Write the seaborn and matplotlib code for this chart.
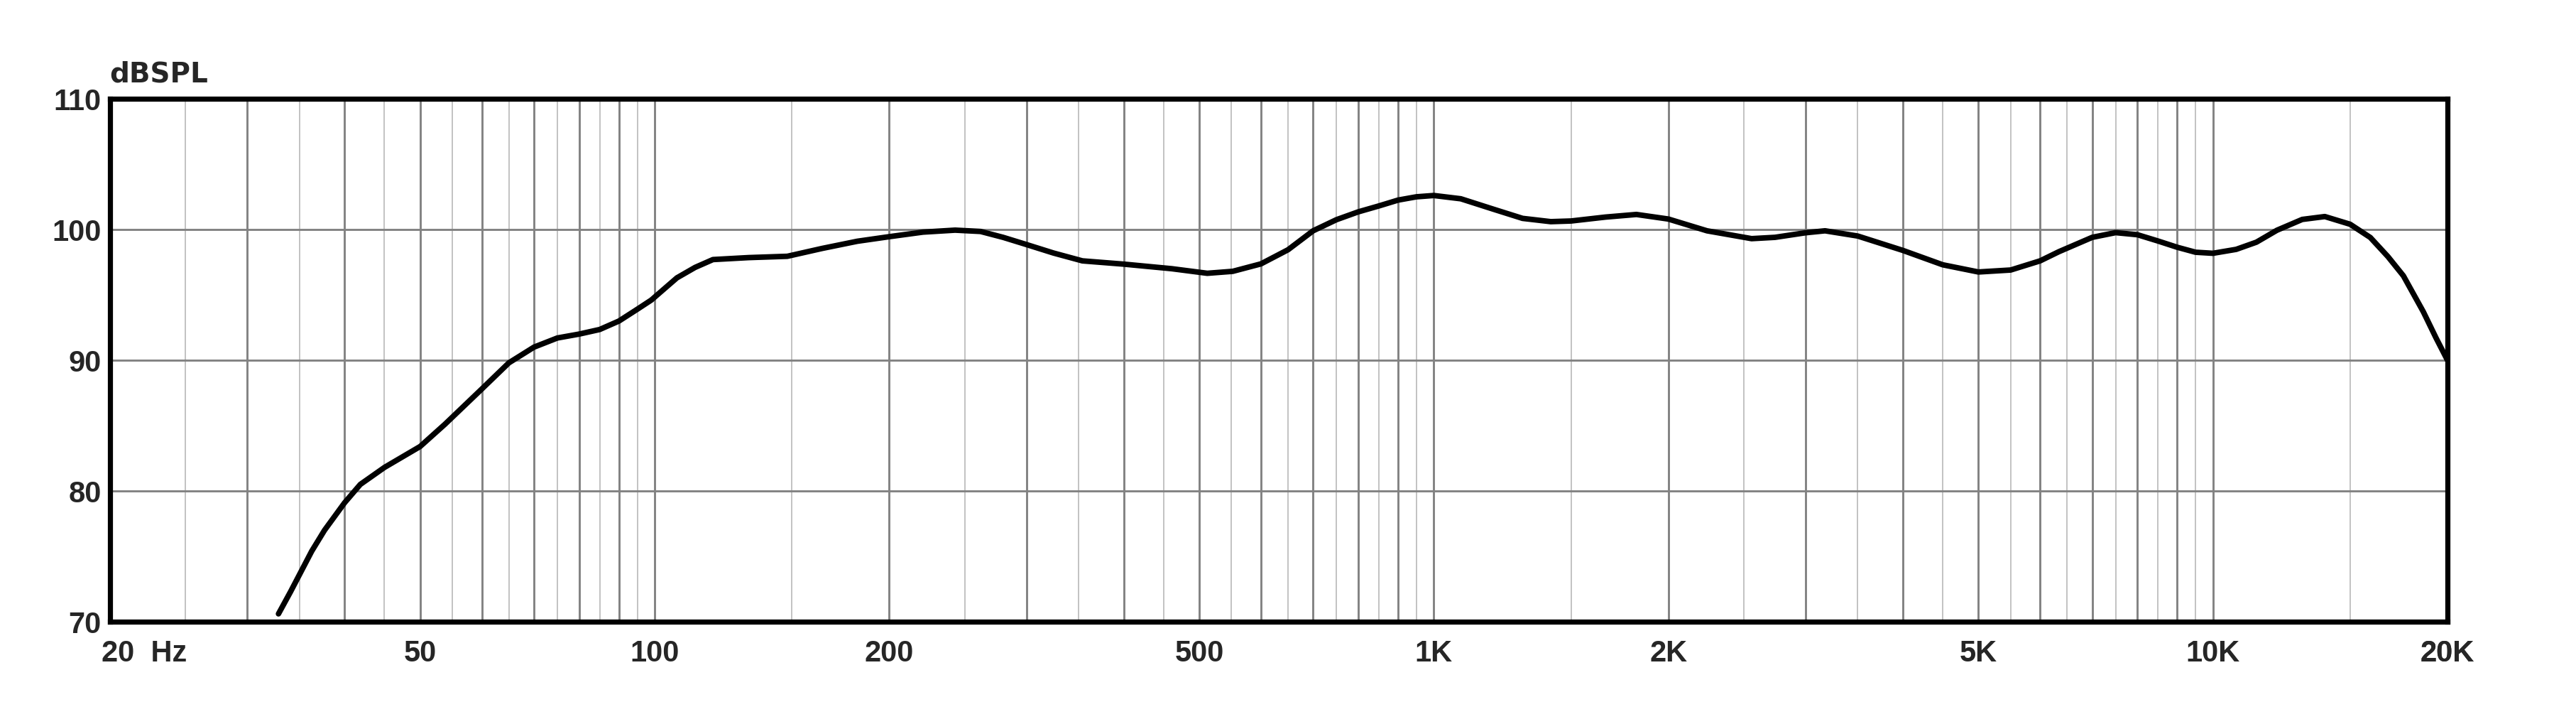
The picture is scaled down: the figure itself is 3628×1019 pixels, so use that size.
import matplotlib
matplotlib.use("Agg")
import matplotlib.pyplot as plt
import matplotlib.transforms as mtransforms
from matplotlib.ticker import FixedLocator, NullFormatter
import seaborn as sns

# frequency response (Hz, dB SPL)
freq_hz = [32.9, 34.1, 36.3, 37.7, 40, 41.9, 45, 50, 53.8, 60, 65, 70, 75, 80, 85, 90, 95,
           99, 106.8, 112.7, 118.8, 132, 148, 164, 182, 200, 221, 243, 262, 280, 300, 325,
           354, 400, 461, 512, 552, 600, 650, 700, 750, 800, 850, 900, 950, 1000, 1083,
           1193, 1300, 1413, 1500, 1661, 1820, 2000, 2242, 2558, 2741, 3000, 3178, 3500,
           4000, 4500, 5000, 5500, 6000, 6342, 7000, 7500, 8000, 8500, 9000, 9500, 10000,
           10711, 11372, 12080, 13020, 13918, 15000, 15920, 16770, 17555, 18620, 19340,
           20000]
spl_db = [70.6, 72.3, 75.4, 77.0, 79.1, 80.5, 81.8, 83.4, 85.1, 87.8, 89.8, 91.0, 91.7,
          92.0, 92.35, 93.0, 93.9, 94.6, 96.3, 97.1, 97.7, 97.85, 97.95, 98.55, 99.1, 99.45,
          99.8, 99.95, 99.85, 99.4, 98.85, 98.2, 97.6, 97.35, 97.0, 96.65, 96.8, 97.37,
          98.45, 99.9, 100.75, 101.35, 101.8, 102.25, 102.5, 102.6, 102.35, 101.55, 100.85,
          100.6, 100.65, 100.95, 101.15, 100.8, 99.9, 99.3, 99.4, 99.75, 99.9, 99.5, 98.4,
          97.3, 96.75, 96.9, 97.6, 98.3, 99.4, 99.76, 99.6, 99.12, 98.64, 98.26, 98.18,
          98.48, 99.03, 99.94, 100.77, 100.99, 100.4, 99.39, 97.93, 96.46, 93.71, 91.69,
          90.0]

x_labels = {20: "20  Hz", 50: "50", 100: "100", 200: "200", 500: "500",
            1000: "1K", 2000: "2K", 5000: "5K", 10000: "10K", 20000: "20K"}
y_ticks = [70, 80, 90, 100, 110]

sns.set_style("white")
plt.rcParams["font.family"] = ["Liberation Sans", "DejaVu Sans"]

fig = plt.figure(figsize=(36.28, 10.2), dpi=100)
ax = fig.add_axes([155 / 3628, 144 / 1020, 3292 / 3628, 736 / 1020])

# grid: dark lines on each multiple, light lines halfway between
major = []
minor = []
for dec in [10, 100, 1000, 10000]:
    for m in range(1, 10):
        if 20 <= m * dec <= 20000:
            major.append(m * dec)
        if 20 <= (m + 0.5) * dec <= 20000:
            minor.append((m + 0.5) * dec)
major.append(20000)

ax.set_xscale("log")
ax.set_xlim(20, 20000)
ax.set_ylim(70, 110)

ax.xaxis.set_major_locator(FixedLocator(major))
ax.xaxis.set_minor_locator(FixedLocator(minor))
ax.xaxis.set_minor_formatter(NullFormatter())
ax.set_xticklabels([x_labels.get(v, "") for v in major])
ax.set_yticks(y_ticks)
ax.set_yticklabels([str(v) for v in y_ticks])

ax.grid(True, which="major", axis="both", color="#828282", lw=2.1, zorder=0)
ax.grid(True, which="minor", axis="x", color="#c2c2c2", lw=1.4, zorder=0)
ax.set_axisbelow(True)

sns.lineplot(x=freq_hz, y=spl_db, ax=ax, color="black", lw=5.6, sort=True, zorder=3)

ax.tick_params(axis="both", which="both", length=0)
ax.tick_params(axis="x", pad=17, labelsize=30)
ax.tick_params(axis="y", pad=9, labelsize=30)
for lab in ax.get_xticklabels() + ax.get_yticklabels():
    lab.set_fontweight("bold")

# "20 Hz" starts just left of the frame
first = ax.get_xticklabels()[0]
first.set_ha("left")
first.set_transform(first.get_transform() +
                    mtransforms.ScaledTranslation(-12 / 100, 0, fig.dpi_scale_trans))

for sp in ax.spines.values():
    sp.set_visible(True)
    sp.set_color("black")
    sp.set_linewidth(5.2)

ax.set_xlabel("")
ax.set_ylabel("")
fig.text(154 / 3628, 1 - 115 / 1020, "dBSPL", ha="left", va="baseline",
         fontsize=28, fontweight="bold", family=["DejaVu Sans"])

fig.savefig("out.png", dpi=100, facecolor="white")
